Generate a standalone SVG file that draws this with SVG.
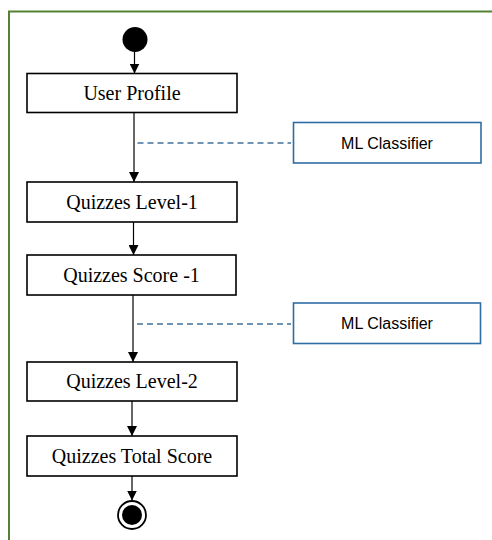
<svg xmlns="http://www.w3.org/2000/svg" width="492" height="540" viewBox="0 0 492 540">
  <style>
    .step rect { fill: #ffffff; stroke: #000000; stroke-width: 1.6; }
    .step text { font-family: "Liberation Serif", "Times New Roman", serif; font-size: 20px; fill: #000000; text-anchor: middle; }
    .ml rect { fill: #ffffff; stroke: #2E6DA4; stroke-width: 1.6; }
    .ml text { font-family: "Liberation Sans", Arial, sans-serif; font-size: 16px; fill: #000000; text-anchor: middle; }
    .flow { stroke: #000000; stroke-width: 1.2; fill: none; marker-end: url(#arrow); }
    .assoc { stroke: #41719C; stroke-width: 1.4; stroke-dasharray: 6 4; fill: none; }
  </style>
  <defs>
    <marker id="arrow" viewBox="0 0 10 10" refX="10" refY="5" markerWidth="10" markerHeight="10" markerUnits="userSpaceOnUse" orient="auto">
      <path d="M0,0 L10,5 L0,10 Z" fill="#000000"/>
    </marker>
  </defs>

  <rect width="492" height="540" fill="#ffffff"/>
  <!-- frame (top and left edges) -->
  <path d="M9,540 V11.5 H492" fill="none" stroke="#548235" stroke-width="2"/>

  <g id="start">
    <circle cx="135" cy="39.5" r="12.5" fill="#000000"/>
  </g>

  <g id="user-profile" class="step">
    <rect x="27" y="73.5" width="210" height="39"/>
    <text x="132" y="99.5">User Profile</text>
  </g>

  <g id="quizzes-level-1" class="step">
    <rect x="27" y="182" width="210" height="40"/>
    <text x="132" y="208.5">Quizzes Level-1</text>
  </g>

  <g id="quizzes-score-1" class="step">
    <rect x="27" y="255" width="209" height="40"/>
    <text x="131.5" y="281.5">Quizzes Score -1</text>
  </g>

  <g id="quizzes-level-2" class="step">
    <rect x="27" y="362" width="210" height="39"/>
    <text x="132" y="388">Quizzes Level-2</text>
  </g>

  <g id="quizzes-total-score" class="step">
    <rect x="27" y="436" width="210" height="40"/>
    <text x="132" y="462.5">Quizzes Total Score</text>
  </g>

  <g id="ml-classifier-1" class="ml">
    <rect x="293.5" y="122.5" width="187.5" height="40.5"/>
    <text x="387" y="148.5">ML Classifier</text>
  </g>

  <g id="ml-classifier-2" class="ml">
    <rect x="293.5" y="303" width="187" height="40.5"/>
    <text x="387" y="329">ML Classifier</text>
  </g>

  <g id="end">
    <circle cx="132" cy="515" r="14" fill="#ffffff" stroke="#000000" stroke-width="1.8"/>
    <circle cx="132" cy="515" r="10" fill="#000000"/>
  </g>

  <g id="connectors">
    <line class="flow" x1="134.5" y1="52" x2="134.5" y2="73.5"/>
    <line class="flow" x1="134" y1="112.5" x2="134" y2="182"/>
    <line class="flow" x1="133.5" y1="222" x2="133.5" y2="255"/>
    <line class="flow" x1="133" y1="295" x2="133" y2="362"/>
    <line class="flow" x1="132" y1="401" x2="132" y2="436"/>
    <line class="flow" x1="132" y1="476" x2="132" y2="500.5"/>
    <line class="assoc" x1="137.5" y1="143" x2="291" y2="143"/>
    <line class="assoc" x1="137" y1="324" x2="291" y2="324"/>
  </g>
</svg>
